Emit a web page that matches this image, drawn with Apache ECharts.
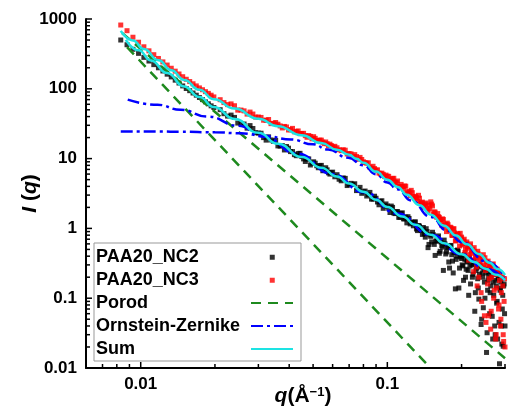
<!DOCTYPE html>
<html><head><meta charset="utf-8">
<script src="https://cdn.jsdelivr.net/npm/echarts@6/dist/echarts.min.js"></script>
<style>html,body{margin:0;padding:0;background:#fff}#c{width:511px;height:408px}</style>
</head><body><div id="c"></div>
<script>
// ---- measured data (q in 1/Å, I(q)) ----
const qData = [
0.0083,0.0088,0.0093,0.0098,0.0103,0.0108,0.0113,0.0118,0.0123,0.0128,0.0133,0.0138,0.0143,0.0148,0.0153,0.0158,0.0163,0.0168,0.0173,0.0178,0.0183,0.0188,0.0193,0.0198,
0.021,0.0225,0.024,0.0255,0.027,0.0285,0.030,0.0315,0.033,0.0345,0.036,0.0375,0.039,0.0405,0.042,0.0435,0.045,0.0465,0.048,0.0495,0.051,0.0525,0.054,0.0555,0.057,0.0585,0.060,
0.0625,0.065,0.0675,0.07,0.0725,0.075,0.0775,0.08,0.0825,0.085,0.0875,0.09,0.0925,0.095,0.0975,0.1,0.1025,0.105,0.1075,0.11,0.1125,0.115,0.1175,0.12,0.1225,0.125,0.1275,0.13,0.1325,0.135,0.1375,
0.14,0.1425,0.145,0.1475,0.15,0.1525,0.155,0.1575,0.16,0.1625,0.165,0.1675,0.17,0.1725,0.175,0.1775,0.18,0.1825,0.185,0.1875,0.19,0.1925,0.195,0.1975,
0.2,0.2025,0.205,0.2075,0.21,0.2125,0.215,0.2175,0.22,0.2225,0.225,0.2275,0.23,0.2325,0.235,0.2375,0.24,0.2425,0.245,0.2475,0.25,0.2525,0.255,0.2575,0.26,0.2625,0.265,0.2675,0.27,0.2725,0.275,0.2775,0.28,0.2825,0.285,0.2875,0.29,0.2925,0.295,0.2975,0.3
];
const nc2 = [
500,428,368,322,282,250,222,200,180,162,148,133,121,110,101,94,87,81,75,70,65,61,57,54,
50.2,40.6,38.9,31.9,27.3,27.0,23.2,20.0,20.5,17.7,15.2,15.4,14.9,12.6,11.4,11.8,10.7,9.1,9.9,8.6,8.6,7.4,8.0,6.8,6.9,6.0,6.4,
5.88,4.81,5.21,4.27,4.26,3.48,3.87,3.35,2.91,3.28,2.63,2.70,2.18,2.49,2.11,2.09,1.69,2.0,1.63,1.74,1.44,1.67,1.37,1.20,1.39,1.228,1.09,1.24,0.93,1.08,0.94,
1.03,0.75,0.90,0.59,0.77,0.88,0.59,0.66,0.74,0.44,0.64,0.54,0.68,0.43,0.53,0.33,0.56,0.42,0.23,0.48,0.36,0.49,0.14,0.39,
0.37,0.29,0.42,0.2,0.33,0.25,0.38,0.16,0.3,0.22,0.34,0.12,0.27,0.19,0.097,0.3,0.042,0.23,0.073,0.17,0.26,0.0167,0.13,0.21,0.06,0.15,0.24,0.026,0.11,0.04,0.18,0.085,0.026,0.2,0.0115,0.14,0.04,0.07,0.0205,0.16,0.04
];
const nc3 = [
820,680,548,465,400,350,308,272,243,219,197,179,163,149,137,127,118,110,103,97,91,86,81,76.5,
69.8,59.4,57.2,49.6,43.4,43.5,39.4,35.5,36.3,32.0,31.1,27.5,28.4,26.0,24.2,24.9,22.9,21.3,21.4,19.2,19.5,18.1,18.4,16.4,16.3,16.1,14.7,
14.3,13.0,13.2,11.8,10.6,10.7,10.4,9.0,8.6,7.52,7.76,6.84,6.2,6.19,5.53,
5.59,4.97,5.2,4.58,4.78,3.97,3.97,4.05,3.19,3.35,3.51,2.84,2.88,2.45,2.71,2.33,2.01,2.23,1.91,2.15,2.4,2.1,1.72,1.5,1.63,
1.44,1.25,1.37,1.04,1.15,1.19,0.965,1.04,0.80,0.98,0.86,0.67,0.84,0.70,0.85,
0.75,0.6,0.7,0.5,0.64,0.55,0.42,0.6,0.48,0.35,0.53,0.4,0.28,0.47,0.2,0.38,0.12,0.3,0.42,0.056,0.25,0.33,0.16,0.056,0.28,0.036,0.2,0.3,0.1,0.22,0.026,0.14,0.25,0.07,0.18,0.04,0.12,0.2,0.03,0.09,0.02
];
// interleaved measurement points (same two samples)
const qData2 = [
0.02175,0.02325,0.02475,0.02625,0.02775,0.02925,0.03075,0.03225,0.03375,0.03525,0.03675,0.03825,0.03975,0.04125,0.04275,0.04425,0.04575,0.04725,0.04875,0.05025,0.05175,0.05325,0.05475,0.05625,0.05775,0.05925,0.06125,
0.06375,0.06625,0.06875,0.07125,0.07375,0.07625,0.07875,0.08125,0.08375,0.08625,0.08875,0.09125,0.09375,0.09625,0.09875,0.10125,0.10375,0.10625,0.10875,0.11125,0.11375,0.11625,0.11875,0.12125,0.12375,0.12625,0.12875,0.13125,0.13375,0.13625,0.13875,
0.14125,0.14375,0.14625,0.14875,0.15125,0.15375,0.15625,0.15875,0.16125,0.16375,0.16625,0.16875,0.17125,0.17375,0.17625,0.17875,0.18125,0.18375,0.18625,0.18875,0.19125,0.19375,0.19625,
0.19875,0.20125,0.20375,0.20625,0.20875,0.21125,0.21375,0.21625,0.21875,0.22125,0.22375,0.22625,0.22875,0.23125,0.23375,0.23625,0.23875,0.24125,0.24375,0.24625,0.24875,0.25125,0.25375,0.25625,0.25875,0.26125,0.26375,0.26625,0.26875,0.27125,0.27375,0.27625,0.27875,0.28125,0.28375,0.28625,0.28875,0.29125,0.29375,0.29625,0.29875
];
const nc2b = [
44.0,42.0,32.3,31.3,29.7,23.5,23.1,18.4,18.5,18.2,15.1,13.3,14.1,12.6,11.0,11.9,9.9,9.9,8.1,9.0,7.9,7.9,6.7,7.4,6.25,6.31,5.49,
5.06,5.28,4.11,4.42,4.36,3.59,3.18,3.43,3.06,2.63,2.89,2.39,2.44,1.94,2.24,1.95,2.09,1.66,1.73,1.44,1.64,1.37,1.45,1.47,1.16,1.2,1.23,0.98,1.10,0.97,0.82,
0.84,0.99,0.53,0.81,0.64,0.81,0.41,0.66,0.78,0.47,0.57,0.25,0.60,0.46,0.54,0.27,0.57,0.34,0.45,0.136,0.40,0.47,0.27,
0.41,0.3,0.18,0.36,0.26,0.34,0.11,0.29,0.35,0.2,0.31,0.065,0.25,0.3,0.14,0.22,0.28,0.05,0.2,0.26,0.1,0.23,0.032,0.18,0.24,0.12,0.2,0.055,0.17,0.22,0.03,0.15,0.09,0.19,0.045,0.13,0.17,0.022,0.11,0.15,0.06
];
const nc3b = [
63.5,60.8,49.5,48.3,46.4,39.3,38.9,35.4,31.7,32.9,29.4,28.9,25.7,27.1,24.5,22.8,23.0,20.2,20.8,20.6,18.2,18.4,17.2,17.3,15.3,15.4,15.0,
13.4,13.4,11.65,11.7,11.4,9.8,9.7,8.75,8.7,7.25,7.2,6.9,6.05,5.95,5.8,
5.57,4.91,5.22,4.52,3.99,4.27,3.67,4.02,3.36,2.95,3.25,2.72,2.75,2.98,2.26,2.38,2.11,2.31,1.79,1.91,2.23,1.61,1.71,1.44,1.47,
1.34,1.11,1.34,1.13,0.90,1.13,0.946,1.02,0.79,0.99,0.66,0.82,0.82,0.56,
0.72,0.58,0.66,0.45,0.6,0.52,0.35,0.56,0.44,0.5,0.24,0.46,0.38,0.15,0.43,0.33,0.4,0.09,0.36,0.28,0.38,0.045,0.3,0.34,0.19,0.29,0.065,0.27,0.31,0.13,0.24,0.03,0.26,0.22,0.08,0.23,0.05,0.2,0.15,0.024,0.19
];
// ---- fitted curves ----
const porod2 = [[0.0088, 395], [0.1496, 0.01]];
const porod3 = [[0.0084, 630], [0.3, 0.0138]];
const oz2 = [[0.00886,70],[0.0117,59],[0.0145,50],[0.0187,40],[0.0248,29.5],[0.0316,20.5],[0.043,11.8],[0.06,6.0],[0.08,3.3],[0.11,1.63],[0.15,0.81],[0.2,0.425],[0.25,0.265],[0.3,0.18]];
const oz3 = [[0.0083,24.5],[0.012,24.4],[0.0145,24.2],[0.02,23.8],[0.0255,23.0],[0.0316,21.2],[0.0407,18.8],[0.05,16.0],[0.0575,13.5],[0.0694,10.3],[0.08,8.0],[0.09,5.95],[0.1,4.55],[0.11,3.64],[0.125,2.5],[0.15,1.46],[0.175,0.93],[0.2,0.635],[0.25,0.34],[0.3,0.2]];
const sum2 = [[0.0087,501],[0.0098,356],[0.011,255],[0.0128,168],[0.015,108],[0.0173,76.4],[0.0198,55],[0.024,37],[0.03,23.4],[0.036,16.3],[0.045,10.56],[0.054,7.41],[0.0625,5.55],[0.07,4.4],[0.08,3.35],[0.09,2.57],[0.1,2.03],[0.115,1.48],[0.13,1.124],[0.15,0.814],[0.17,0.614],[0.2,0.426],[0.225,0.331],[0.25,0.265],[0.275,0.217],[0.3,0.181]];
const sum3 = [[0.0083,675],[0.0093,493],[0.0103,372],[0.0118,256],[0.0133,185],[0.015,134],[0.0173,96.7],[0.0198,71],[0.024,52],[0.03,37.2],[0.036,29.1],[0.045,21.6],[0.054,16.7],[0.0625,13.4],[0.07,11.33],[0.075,9.95],[0.08,8.73],[0.09,6.51],[0.1,4.99],[0.11,3.92],[0.12,3.04],[0.135,2.15],[0.15,1.575],[0.17,1.095],[0.19,0.792],[0.21,0.593],[0.235,0.431],[0.26,0.323],[0.28,0.262],[0.3,0.215]];
// ---- axis ticks ----
const xMajor = [0.01, 0.1];
const xMinor = [0.006,0.007,0.008,0.009,0.02,0.03,0.04,0.05,0.06,0.07,0.08,0.09,0.2,0.3];
const yMajor = [0.01,0.1,1,10,100,1000];
const yMinor = [0.02,0.03,0.04,0.05,0.06,0.07,0.08,0.09,0.2,0.3,0.4,0.5,0.6,0.7,0.8,0.9,2,3,4,5,6,7,8,9,20,30,40,50,60,70,80,90,200,300,400,500,600,700,800,900];
const X_MIN = 0.006, X_MAX = 0.3, Y_MIN = 0.01, Y_MAX = 1000;

const FONT = "'Liberation Sans', Arial, sans-serif";
const chart = echarts.init(document.getElementById('c'), null, {renderer: 'canvas'});
const isDecade = v => Math.abs(Math.log10(v) - Math.round(Math.log10(v))) < 1e-6;
const fmt = v => isDecade(v) ? String(Number(v.toPrecision(3))) : '';
const sqIcon = 'path://M0,0L0,0M42,14L42,14M18.75,4.75L23.75,4.75L23.75,9.75L18.75,9.75Z';
const pairs = (qs, vs) => qs.map((q, i) => [q, vs[i]]);

const xTickData = xMajor.map(v => [v, Y_MIN, 1]).concat(xMinor.map(v => [v, Y_MIN, 0]));
const yTickData = yMajor.map(v => [X_MIN, v, 1]).concat(yMinor.map(v => [X_MIN, v, 0]));
const hideSym = {opacity: 0};

chart.setOption({
  animation: false,
  backgroundColor: '#fff',
  grid: {left: 86, right: 6, top: 19, bottom: 40, containLabel: false, outerBoundsMode: 'none'},
  xAxis: {
    type: 'log', logBase: 10, min: X_MIN, max: X_MAX,
    axisLine: {show: true, lineStyle: {color: '#000', width: 2}},
    axisTick: {show: false}, splitLine: {show: false}, minorTick: {show: false},
    axisLabel: {formatter: fmt, color: '#000', fontSize: 17, fontWeight: 'bold', fontFamily: FONT, margin: 8, showMinLabel: true, showMaxLabel: true},
    name: '{i|q}{n|(Å}{s|−1}{n|)}', nameLocation: 'middle', nameGap: 18, nameMoveOverlap: false,
    nameTextStyle: {padding: [0, 0, 0, 15], rich: {
      i: {fontStyle: 'italic', fontWeight: 'bold', fontSize: 21, fontFamily: FONT, color: '#000'},
      n: {fontWeight: 'bold', fontSize: 21, fontFamily: FONT, color: '#000'},
      s: {fontWeight: 'bold', fontSize: 13, fontFamily: FONT, color: '#000', verticalAlign: 'top', lineHeight: 13}
    }}
  },
  yAxis: {
    type: 'log', logBase: 10, min: Y_MIN, max: Y_MAX,
    axisLine: {show: true, lineStyle: {color: '#000', width: 2}},
    axisTick: {show: false}, splitLine: {show: false}, minorTick: {show: false},
    axisLabel: {formatter: fmt, color: '#000', fontSize: 17, fontWeight: 'bold', fontFamily: FONT, margin: 9},
    name: '{i|I} {n|(}{i|q}{n|)}', nameLocation: 'middle', nameGap: 45, nameRotate: 90, nameMoveOverlap: false,
    nameTextStyle: {fontSize: 21, fontWeight: 'bold', fontFamily: FONT, rich: {
      i: {fontStyle: 'italic', fontWeight: 'bold', fontSize: 21, fontFamily: FONT, color: '#000'},
      n: {fontWeight: 'bold', fontSize: 21, fontFamily: FONT, color: '#000'}
    }}
  },
  legend: {
    orient: 'vertical', left: 94, top: 243, align: 'right',
    data: [
      {name: 'PAA20_NC2', icon: sqIcon},
      {name: 'PAA20_NC3', icon: sqIcon},
      {name: 'Porod', itemStyle: hideSym},
      {name: 'Ornstein-Zernike', itemStyle: hideSym},
      {name: 'Sum', itemStyle: hideSym}
    ],
    itemWidth: 42, itemHeight: 14, itemGap: 5,
    padding: [5, 7, 3, 2],
    borderColor: '#999', borderWidth: 1, backgroundColor: '#fff',
    selectedMode: false,
    formatter: n => '{a|' + n + '}',
    textStyle: {rich: {a: {width: 150, align: 'left', fontSize: 18, fontWeight: 'bold', fontFamily: FONT, color: '#000', lineHeight: 20}}}
  },
  series: [
    {name: 'PAA20_NC2', type: 'scatter', symbol: 'rect', symbolSize: 5, itemStyle: {color: '#000'},
     data: pairs(qData, nc2).concat(pairs(qData2, nc2b))},
    {name: 'PAA20_NC3', type: 'scatter', symbol: 'rect', symbolSize: 5, itemStyle: {color: '#ff0000'},
     data: pairs(qData, nc3).concat(pairs(qData2, nc3b))},
    {name: 'Porod', type: 'line', symbol: 'none', data: porod2, lineStyle: {color: '#1e8a1e', width: 2.5, type: [10, 7]}, itemStyle: {color: '#1e8a1e'}},
    {name: 'Porod', type: 'line', symbol: 'none', data: porod3, lineStyle: {color: '#1e8a1e', width: 2.5, type: [10, 7]}, itemStyle: {color: '#1e8a1e'}},
    {name: 'Ornstein-Zernike', type: 'line', symbol: 'none', smooth: true, smoothMonotone: 'x', data: oz2, lineStyle: {color: '#0000ff', width: 2.5, type: [12, 4, 3, 4]}, itemStyle: {color: '#0000ff'}},
    {name: 'Ornstein-Zernike', type: 'line', symbol: 'none', smooth: true, smoothMonotone: 'x', data: oz3, lineStyle: {color: '#0000ff', width: 2.5, type: [12, 4, 3, 4]}, itemStyle: {color: '#0000ff'}},
    {name: 'Sum', type: 'line', symbol: 'none', smooth: true, smoothMonotone: 'x', data: sum2, lineStyle: {color: '#1de3e3', width: 2.5}, itemStyle: {color: '#1de3e3'}},
    {name: 'Sum', type: 'line', symbol: 'none', smooth: true, smoothMonotone: 'x', data: sum3, lineStyle: {color: '#1de3e3', width: 2.5}, itemStyle: {color: '#1de3e3'}},
    {name: 'xticks', type: 'custom', silent: true, z: 10, data: xTickData,
     renderItem: (params, api) => {
       const p = api.coord([api.value(0), api.value(1)]);
       const len = api.value(2) ? 6 : 4;
       return {type: 'line', shape: {x1: p[0], y1: p[1], x2: p[0], y2: p[1] - len}, style: {stroke: '#000', lineWidth: 1.5}};
     }},
    {name: 'yticks', type: 'custom', silent: true, z: 10, data: yTickData,
     renderItem: (params, api) => {
       const p = api.coord([api.value(0), api.value(1)]);
       const len = api.value(2) ? 6 : 4;
       return {type: 'line', shape: {x1: p[0], y1: p[1], x2: p[0] + len, y2: p[1]}, style: {stroke: '#000', lineWidth: 1.5}};
     }}
  ]
});
</script>
</body></html>
